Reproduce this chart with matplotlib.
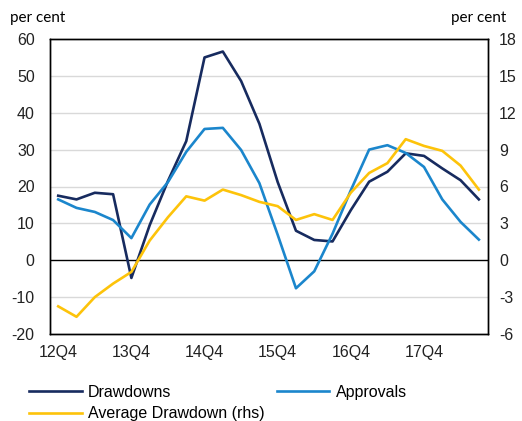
import matplotlib
matplotlib.use('Agg')
import matplotlib.pyplot as plt
import numpy as np

# quarterly, 12Q4 .. 18Q3
quarters = ['12Q4', '13Q1', '13Q2', '13Q3', '13Q4', '14Q1', '14Q2', '14Q3',
            '14Q4', '15Q1', '15Q2', '15Q3', '15Q4', '16Q1', '16Q2', '16Q3',
            '16Q4', '17Q1', '17Q2', '17Q3', '17Q4', '18Q1', '18Q2', '18Q3']
drawdowns = [17.5, 16.5, 18.3, 17.9, -4.8, 9.5, 21.5, 32.3,
             55.0, 56.6, 48.6, 37.0, 21.2, 8.0, 5.5, 5.1,
             13.6, 21.3, 24.0, 29.0, 28.3, 24.9, 21.7, 16.5]
approvals = [16.5, 14.2, 13.1, 10.9, 6.0, 15.1, 21.2, 29.4,
             35.6, 35.9, 29.9, 20.9, 6.9, -7.6, -3.0, 7.2,
             19.0, 30.0, 31.2, 29.1, 25.3, 16.5, 10.4, 5.6]
avg_drawdown = [-3.75, -4.6, -3.0, -1.9, -0.95, 1.6, 3.5, 5.2,
                4.85, 5.75, 5.3, 4.75, 4.4, 3.28, 3.75, 3.28,
                5.5, 7.1, 7.9, 9.85, 9.3, 8.9, 7.7, 5.75]
tick_labels = ['12Q4', '13Q4', '14Q4', '15Q4', '16Q4', '17Q4']

plt.rcParams['font.family'] = ['Liberation Sans', 'DejaVu Sans']
plt.rcParams['axes.unicode_minus'] = False

fig = plt.figure(figsize=(5.22, 4.21), dpi=100)
ax = fig.add_axes([50 / 522, 1 - 334 / 421, 438 / 522, 295 / 421])
ax2 = ax.twinx()

x = np.arange(len(quarters))
ax.set_xlim(-0.45, len(quarters) - 1 + 0.5)
ax.set_ylim(-20, 60)
ax2.set_ylim(-6, 18)

# 网格线
for v in range(-10, 60, 10):
    if v == 0:
        ax.axhline(0, color='black', linewidth=1.0, zorder=1)
    else:
        ax.axhline(v, color='#d9d9d9', linewidth=1.0, zorder=0)

lw = 1.9
l1, = ax.plot(x, drawdowns, color='#172B5F', linewidth=lw, label='Drawdowns', zorder=3)
l2, = ax.plot(x, approvals, color='#1B86CC', linewidth=lw, label='Approvals', zorder=3)
l3, = ax2.plot(x, avg_drawdown, color='#FDC30A', linewidth=lw,
               label='Average Drawdown (rhs)', zorder=2)

ax.set_xticks([quarters.index(q) for q in tick_labels])
ax.set_xticklabels(tick_labels)
ax.set_yticks(range(-20, 61, 10))
ax2.set_yticks(range(-6, 19, 3))

for a in (ax, ax2):
    a.tick_params(length=0, labelsize=11.5, colors='#222222')
    for s in a.spines.values():
        s.set_color('black')
        s.set_linewidth(1.0)
ax.tick_params(axis='y', pad=11)
ax.tick_params(axis='x', pad=8)
ax2.tick_params(axis='y', pad=8)

fig.text(10 / 522, 1 - 18 / 421, 'per cent', fontsize=11, family=['Lato', 'DejaVu Sans'],
         va='center', ha='left')
fig.text(506 / 522, 1 - 18 / 421, 'per cent', fontsize=11, family=['Lato', 'DejaVu Sans'],
         va='center', ha='right')

# 图例按列填充，调整顺序让前两项在同一行
fig.legend(handles=[l1, l3, l2], loc='upper left', ncol=2,
           bbox_to_anchor=(21 / 522, 1 - 377 / 421), frameon=False, fontsize=11.5,
           handlelength=3.3, columnspacing=0.75, labelspacing=0.4, handletextpad=0.4,
           borderpad=0)

fig.savefig('out.png', dpi=100)
